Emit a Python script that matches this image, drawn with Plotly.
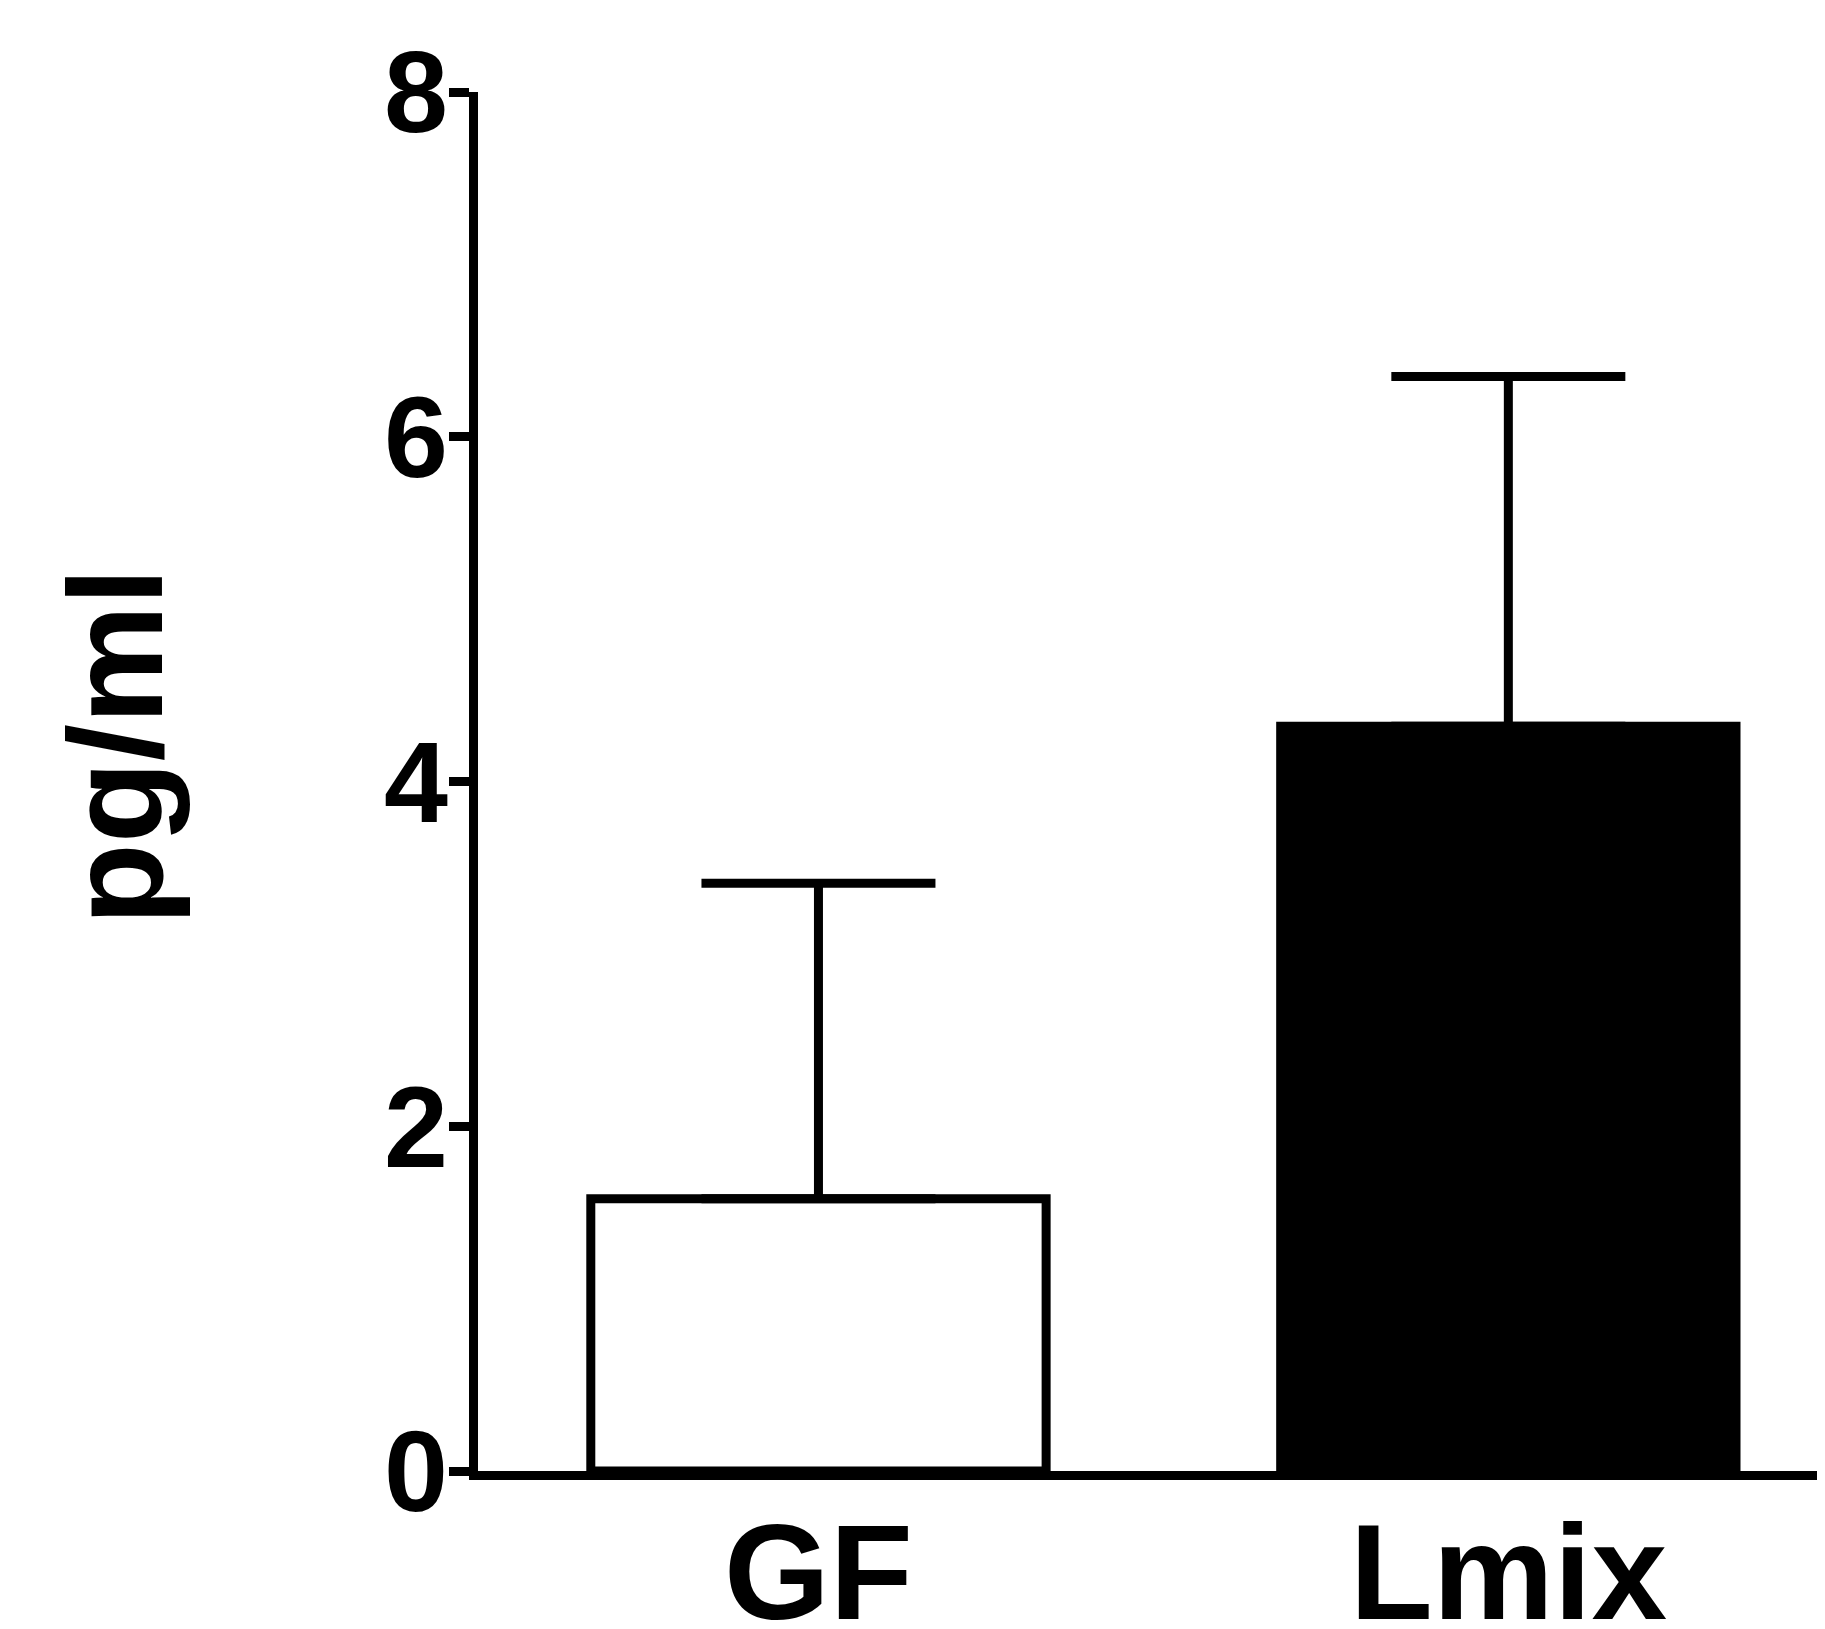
import plotly.graph_objects as go

categories = ["GF", "Lmix"]
means = [1.58, 4.32]
errors_up = [1.83, 2.03]
fill_colors = ["white", "black"]
y_ticks = [0, 2, 4, 6, 8]

FONT = "Liberation Sans, Arial, sans-serif"

fig = go.Figure()
fig.add_trace(go.Bar(
    x=[0, 1], y=means, width=0.66,
    marker=dict(color=fill_colors, line=dict(color="black", width=9)),
    error_y=dict(type="data", array=errors_up, arrayminus=[0, 0], symmetric=False,
                 color="black", thickness=9, width=117),
    showlegend=False,
))

fig.update_layout(
    width=1817, height=1621,
    margin=dict(l=469.5, r=0, t=84, b=158, autoexpand=False),
    plot_bgcolor="white", paper_bgcolor="white",
    xaxis=dict(range=[-0.4935, 1.459], tickmode="array", tickvals=[0, 1], ticktext=categories,
               showline=True, linecolor="black", linewidth=9, ticks="",
               showgrid=False, zeroline=False, automargin=False,
               tickfont=dict(family=FONT, size=136, color="black", weight="bold"),
               ticklabelstandoff=-24),
    yaxis=dict(range=[0, 8], tickmode="array", tickvals=y_ticks, ticktext=[str(v) for v in y_ticks],
               showline=True, linecolor="black", linewidth=9, ticks="outside",
               ticklen=20, tickwidth=9, tickcolor="black",
               showgrid=False, zeroline=False, automargin=False,
               tickfont=dict(family=FONT, size=115, color="black", weight="bold"),
               ticklabelstandoff=-22),
    annotations=[dict(text="pg/ml", xref="paper", yref="paper", x=-0.2695, y=0.5257,
                      xanchor="center", yanchor="middle", textangle=-90, showarrow=False,
                      font=dict(family=FONT, size=134, color="black", weight="bold"))],
)

fig.write_html("out.html")
